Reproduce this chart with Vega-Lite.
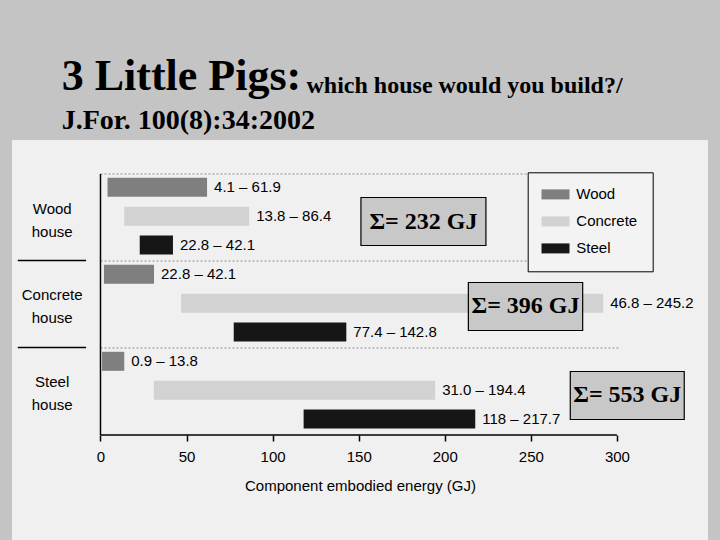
{
  "$schema": "https://vega.github.io/schema/vega-lite/v6.json",
  "autosize": {"type": "none"},
  "width": 696,
  "height": 400,
  "padding": {"left": 12, "top": 140, "right": 12, "bottom": 0},
  "background": "#c4c4c4",
  "view": {"fill": "#f0f0f0", "stroke": null},
  "title": {
    "text": "3 Little Pigs:",
    "subtitle": "J.For. 100(8):34:2002",
    "anchor": "start",
    "frame": "group",
    "dx": 49.7,
    "offset": -62,
    "font": "Liberation Serif",
    "fontSize": 44,
    "fontWeight": "bold",
    "color": "#000000",
    "subtitleFont": "Liberation Serif",
    "subtitleFontSize": 28,
    "subtitleFontWeight": "bold",
    "subtitleColor": "#000000",
    "subtitlePadding": 8
  },
  "datasets": {
    "energy": [
      {"house": "Wood house", "material": "Wood", "start": 4.1, "end": 61.9, "label": "4.1 – 61.9"},
      {"house": "Wood house", "material": "Concrete", "start": 13.8, "end": 86.4, "label": "13.8 – 86.4"},
      {"house": "Wood house", "material": "Steel", "start": 22.8, "end": 42.1, "label": "22.8 – 42.1"},
      {"house": "Concrete house", "material": "Wood", "start": 2.0, "end": 31.1, "label": "22.8 – 42.1"},
      {"house": "Concrete house", "material": "Concrete", "start": 46.8, "end": 292, "label": "46.8 – 245.2"},
      {"house": "Concrete house", "material": "Steel", "start": 77.4, "end": 142.8, "label": "77.4 – 142.8"},
      {"house": "Steel house", "material": "Wood", "start": 0.9, "end": 13.8, "label": "0.9 – 13.8"},
      {"house": "Steel house", "material": "Concrete", "start": 31.0, "end": 194.4, "label": "31.0 – 194.4"},
      {"house": "Steel house", "material": "Steel", "start": 118, "end": 217.7, "label": "118 – 217.7"}
    ],
    "totals": [
      {"house": "Wood house", "total": "Σ= 232 GJ"},
      {"house": "Concrete house", "total": "Σ= 396 GJ"},
      {"house": "Steel house", "total": "Σ= 553 GJ"}
    ]
  },
  "resolve": {"axis": {"x": "independent"}},
  "layer": [
    {
      "data": {"name": "energy"},
      "layer": [
        {
          "mark": {"type": "bar"},
          "encoding": {
            "x": {
              "field": "start",
              "type": "quantitative",
              "scale": {"domain": [-51.4, 352.9], "nice": false, "zero": false},
              "axis": {
                "orient": "bottom",
                "offset": -105,
                "values": [0, 50, 100, 150, 200, 250, 300],
                "domain": false,
                "grid": false,
                "ticks": true,
                "tickSize": 6,
                "tickWidth": 1.5,
                "tickColor": "#000000",
                "labelFont": "Liberation Sans",
                "labelFontSize": 15,
                "labelColor": "#000000",
                "labelPadding": 8,
                "title": "Component embodied energy (GJ)",
                "titleFont": "Liberation Sans",
                "titleFontSize": 15,
                "titleFontWeight": "normal",
                "titleColor": "#000000",
                "titlePadding": 14
              }
            },
            "x2": {"field": "end"},
            "y": {
              "field": "house",
              "type": "nominal",
              "sort": ["Wood house", "Concrete house", "Steel house"],
              "scale": {"paddingInner": 0, "paddingOuter": 0.799, "align": 0.2446},
              "axis": {
                "orient": "left",
                "offset": -73.6,
                "domain": false,
                "grid": false,
                "ticks": true,
                "bandPosition": 0,
                "tickSize": 68.3,
                "tickWidth": 1.5,
                "tickColor": "#000000",
                "tickOpacity": {"condition": {"test": "datum.value === 'Wood house'", "value": 0}, "value": 1},
                "labelOffset": -9,
                "labelAlign": "center",
                "labelBaseline": "middle",
                "labelPadding": -34.4,
                "labelExpr": "split(datum.label, ' ')",
                "labelLineHeight": 23,
                "labelFont": "Liberation Sans",
                "labelFontSize": 15,
                "labelColor": "#000000",
                "title": null
              }
            },
            "yOffset": {
              "field": "material",
              "type": "nominal",
              "sort": ["Wood", "Concrete", "Steel"],
              "scale": {"paddingInner": 0.3414, "paddingOuter": 0.1785, "align": 0.37}
            },
            "color": {
              "field": "material",
              "type": "nominal",
              "scale": {"domain": ["Wood", "Concrete", "Steel"], "range": ["#7f7f7f", "#d2d2d2", "#161616"]},
              "legend": {
                "orient": "none",
                "legendX": 515.7,
                "legendY": 32.3,
                "title": null,
                "direction": "vertical",
                "padding": 14.6,
                "strokeColor": "#000000",
                "fillColor": "#f3f3f3",
                "symbolType": "M-2.8,-1H2.8V1H-2.8Z",
                "symbolSize": 100,
                "symbolStrokeWidth": 0,
                "symbolOffset": 5.7,
                "labelOffset": 13.3,
                "labelFont": "Liberation Sans",
                "labelFontSize": 15,
                "labelColor": "#000000",
                "rowPadding": 11
              }
            }
          }
        },
        {
          "mark": {"type": "text", "align": "left", "baseline": "middle", "dx": 7, "font": "Liberation Sans", "fontSize": 15, "color": "#000000"},
          "encoding": {
            "x": {"field": "end", "type": "quantitative"},
            "y": {"field": "house", "type": "nominal", "sort": ["Wood house", "Concrete house", "Steel house"]},
            "yOffset": {"field": "material", "type": "nominal", "sort": ["Wood", "Concrete", "Steel"]},
            "text": {"field": "label"}
          }
        },
        {
          "transform": [{"filter": "datum.material === 'Wood'"}],
          "mark": {"type": "rule", "color": "#8c8c8c", "strokeWidth": 1, "strokeDash": [2, 2]},
          "encoding": {
            "x": {"datum": 0},
            "x2": {"datum": 301.5},
            "y": {"field": "house", "type": "nominal", "sort": ["Wood house", "Concrete house", "Steel house"], "bandPosition": 0}
          }
        },
        {
          "transform": [{"filter": "datum.material === 'Wood'"}],
          "mark": {"type": "tick", "orient": "vertical", "size": 87, "thickness": 1.5, "color": "#000000", "opacity": 1},
          "encoding": {
            "x": {"datum": 0},
            "y": {"field": "house", "type": "nominal", "sort": ["Wood house", "Concrete house", "Steel house"]}
          }
        },
        {
          "data": {"name": "totals"},
          "transform": [{"filter": "datum.house === 'Wood house'"}],
          "layer": [
            {
              "mark": {"type": "bar", "height": 48, "yOffset": 4, "fill": "#c8c8c8", "stroke": "#000000", "strokeWidth": 1.2},
              "encoding": {
                "x": {"datum": 151.3},
                "x2": {"datum": 223.9},
                "y": {"field": "house", "type": "nominal", "sort": ["Wood house", "Concrete house", "Steel house"]}
              }
            },
            {
              "mark": {"type": "text", "align": "center", "baseline": "middle", "yOffset": 4, "font": "Liberation Serif", "fontSize": 24, "fontWeight": "bold", "color": "#000000"},
              "encoding": {
                "x": {"datum": 187.6},
                "y": {"field": "house", "type": "nominal", "sort": ["Wood house", "Concrete house", "Steel house"]},
                "text": {"field": "total"}
              }
            }
          ]
        },
        {
          "data": {"name": "totals"},
          "transform": [{"filter": "datum.house === 'Concrete house'"}],
          "layer": [
            {
              "mark": {"type": "bar", "height": 48, "yOffset": 2, "fill": "#c8c8c8", "stroke": "#000000", "strokeWidth": 1.2},
              "encoding": {
                "x": {"datum": 213.7},
                "x2": {"datum": 280.1},
                "y": {"field": "house", "type": "nominal", "sort": ["Wood house", "Concrete house", "Steel house"]}
              }
            },
            {
              "mark": {"type": "text", "align": "center", "baseline": "middle", "yOffset": 2, "font": "Liberation Serif", "fontSize": 24, "fontWeight": "bold", "color": "#000000"},
              "encoding": {
                "x": {"datum": 246.9},
                "y": {"field": "house", "type": "nominal", "sort": ["Wood house", "Concrete house", "Steel house"]},
                "text": {"field": "total"}
              }
            }
          ]
        },
        {
          "data": {"name": "totals"},
          "transform": [{"filter": "datum.house === 'Steel house'"}],
          "layer": [
            {
              "mark": {"type": "bar", "height": 48, "yOffset": 4, "fill": "#c8c8c8", "stroke": "#000000", "strokeWidth": 1.2},
              "encoding": {
                "x": {"datum": 272.9},
                "x2": {"datum": 339.1},
                "y": {"field": "house", "type": "nominal", "sort": ["Wood house", "Concrete house", "Steel house"]}
              }
            },
            {
              "mark": {"type": "text", "align": "center", "baseline": "middle", "yOffset": 4, "font": "Liberation Serif", "fontSize": 24, "fontWeight": "bold", "color": "#000000"},
              "encoding": {
                "x": {"datum": 306.0},
                "y": {"field": "house", "type": "nominal", "sort": ["Wood house", "Concrete house", "Steel house"]},
                "text": {"field": "total"}
              }
            }
          ]
        }
      ]
    },
    {
      "data": {"name": "energy"},
      "transform": [{"filter": "datum.house === 'Steel house' && datum.material === 'Steel'"}],
      "mark": {"type": "rule", "color": "#000000", "strokeWidth": 1.5},
      "encoding": {
        "x": {
          "datum": 0,
          "axis": {
            "orient": "top",
            "labels": false,
            "ticks": false,
            "domain": false,
            "grid": false,
            "title": "which house would you build?/",
            "titleX": 294,
            "titleY": -48,
            "titleAlign": "left",
            "titleAnchor": "start",
            "titleBaseline": "alphabetic",
            "titleAngle": 0,
            "titleFont": "Liberation Serif",
            "titleFontSize": 24,
            "titleFontWeight": "bold",
            "titleColor": "#000000"
          }
        },
        "x2": {"datum": 300},
        "y": {"field": "house", "type": "nominal", "sort": ["Wood house", "Concrete house", "Steel house"], "bandPosition": 1}
      }
    }
  ]
}
